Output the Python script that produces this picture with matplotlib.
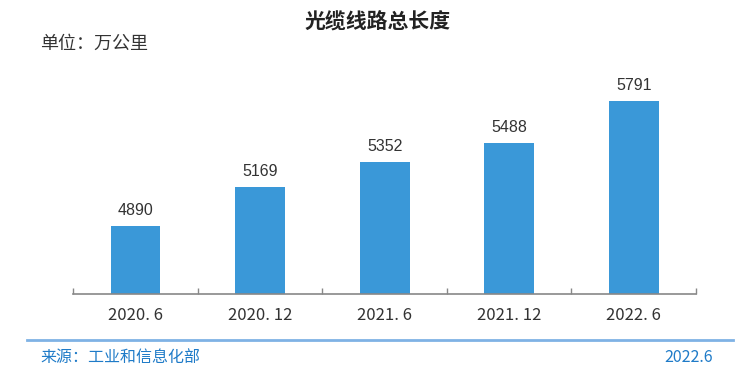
import matplotlib
matplotlib.use('Agg')
import matplotlib.pyplot as plt
from matplotlib.lines import Line2D

# data
periods = ['2020. 6', '2020. 12', '2021. 6', '2021. 12', '2022. 6']
lengths = [4890, 5169, 5352, 5488, 5791]

title = '光缆线路总长度'
unit = '单位：万公里'
source = '来源：工业和信息化部'
date = '2022.6'

cjk = ['Noto Sans CJK SC', 'DejaVu Sans']
plt.rcParams['font.family'] = cjk

W, H = 743, 378
fig = plt.figure(figsize=(W/100, H/100), dpi=100)
ax = fig.add_axes([73.3/W, 84/H, 622.7/W, 208/H])

x = range(len(periods))
ax.bar(x, lengths, width=0.4, color='#3a98d8')
for xi, v in zip(x, lengths):
    ax.annotate(str(v), (xi, v), xytext=(0, 6), textcoords='offset points',
                ha='center', va='bottom', fontsize=11.5, color='#333333',
                family='Liberation Sans')

ax.set_xlim(-0.5, len(periods) - 0.5)
ax.set_ylim(4400, 5900)

# category separators on the axis line
ax.set_xticks([i - 0.5 for i in range(len(periods) + 1)], minor=True)
ax.tick_params(axis='x', which='minor', direction='in', length=4, width=1, color='#888888')
ax.set_xticks(list(x))
ax.set_xticklabels(periods, fontsize=12, color='#333333')
ax.tick_params(axis='x', which='major', length=0, pad=9)
ax.set_yticks([])
for s in ['top', 'right', 'left']:
    ax.spines[s].set_visible(False)
ax.spines['bottom'].set_color('#888888')
ax.spines['bottom'].set_linewidth(1.2)

fig.text(378/W, 1 - 22/H, title, ha='center', va='center', fontsize=15,
         fontweight='bold', color='#222222')
fig.text(40/W, 1 - 44/H, unit, ha='left', va='center', fontsize=13, color='#333333')

fig.add_artist(Line2D([27/W, 733/W], [1 - 340/H, 1 - 340/H], color='#7fb2e5', lw=2))
fig.text(40/W, 1 - 357/H, source, ha='left', va='center', fontsize=11.5, color='#1f7bc8')
fig.text(713/W, 1 - 357/H, date, ha='right', va='center', fontsize=11.5, color='#1f7bc8')

fig.savefig('out.png', dpi=100, facecolor='white')
